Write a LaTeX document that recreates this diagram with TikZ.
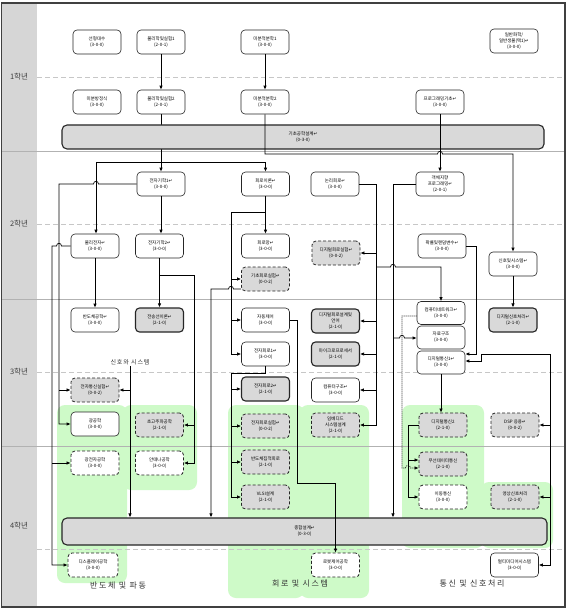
\documentclass[tikz,border=0pt]{standalone}
\usepackage{fontspec}
\setmainfont{Noto Sans CJK KR}
\newfontfamily\djv{DejaVu Sans}
\usetikzlibrary{arrows.meta,calc}
\pgfdeclarelayer{bg}\pgfdeclarelayer{under}
\pgfsetlayers{bg,under,main}
\definecolor{grn}{RGB}{206,250,200}
\definecolor{gfill}{RGB}{217,217,217}
\definecolor{colg}{RGB}{214,214,214}
\newcommand{\rmk}{{\djv ↵}}
\begin{document}
\begin{tikzpicture}[x=1pt,y=-1pt,
  crs/.style={draw=black!85, line width=0.6pt, rounded corners=4pt, minimum width=48pt, minimum height=24pt, inner sep=1pt, align=center, fill=white, font=\fontsize{4.5}{6}\selectfont},
  gsol/.style={crs, fill=gfill, line width=1.1pt},
  gdash/.style={crs, fill=gfill, dash pattern=on 3pt off 2pt, line width=0.8pt},
  wdash/.style={crs, dash pattern=on 3pt off 2pt, line width=0.8pt},
  barbox/.style={crs, fill=gfill, line width=1.1pt, rounded corners=5pt},
  arr/.style={-{Latex[length=4pt,width=3.4pt]}, line width=0.7pt},
  dotl/.style={dash pattern=on 1pt off 1pt, line width=0.6pt},
  yr/.style={font=\fontsize{7.5}{8}\selectfont, text=black!75},
  trk/.style={font=\fontsize{8}{9}\selectfont\addfontfeature{LetterSpace=20}, text=black!80},
  grnbox/.style={fill=grn, rounded corners=8pt}
]
\useasboundingbox (0,0) rectangle (567,609);

% ---------- background: green regions, column, grid ----------
\begin{pgfonlayer}{bg}
\fill[white] (0,0) rectangle (567,609);
\fill[colg] (1.5,3) rectangle (37,607);
\fill[grnbox] (57,405) rectangle (127,583);
\fill[grnbox] (123,405) rectangle (197,490);
\fill[grnbox] (228,405) rectangle (304,598);
\fill[grnbox] (300,405) rectangle (369,598);
\fill[grnbox] (402,405) rectangle (484,548);
\fill[grnbox] (481,482) rectangle (553,548);
\foreach \yy in {151,299,446} \draw[black!30, line width=0.9pt] (1.5,\yy) -- (565,\yy);
\foreach \yy in {77,224,372,549} \draw[black!22, line width=0.8pt, dash pattern=on 5pt off 3pt] (37,\yy) -- (565,\yy);
\end{pgfonlayer}

% ---------- year labels ----------
\node[yr] (y1) at (19,77) {1학년};
\node[yr] (y2) at (19,224) {2학년};
\node[yr] (y3) at (19,372) {3학년};
\node[yr] (y4) at (19,526) {4학년};

% ---------- year 1 ----------
\node[crs] (a1) at (97,42) {선형대수\\(3-0-0)};
\node[crs] (a2) at (161,42) {물리학및실험1\\(2-0-1)};
\node[crs] (a3) at (265,42) {미분적분학1\\(3-0-0)};
\node[crs] (a4) at (514,41) {일반화학/\\일반생물(택1)\rmk\\(3-0-0)};
\node[crs] (b1) at (97,102) {미분방정식\\(3-0-0)};
\node[crs] (b2) at (161,102) {물리학및실험2\\(2-0-1)};
\node[crs] (b3) at (265,102) {미분적분학2\\(3-0-0)};
\node[crs] (b4) at (440,102) {프로그래밍기초\rmk\\(3-0-0)};
\node[barbox, minimum width=482pt, minimum height=24pt] (bar1) at (303,137) {기초공학설계\rmk\\(0-3-0)};

% ---------- year 2 ----------
\node[crs] (c1) at (161,184) {전자기학1\rmk\\(3-0-0)};
\node[crs] (c2) at (265.5,184) {회로이론\rmk\\(3-0-0)};
\node[crs] (c3) at (335,184) {논리회로\rmk\\(3-0-0)};
\node[crs] (c4) at (440,184) {객체지향\\프로그래밍\rmk\\(2-0-1)};
\node[crs] (d1) at (95,246) {물리전자\rmk\\(3-0-0)};
\node[crs] (d2) at (159.5,246) {전자기학2\rmk\\(3-0-0)};
\node[crs] (d3) at (265.5,246) {회로망\rmk\\(3-0-0)};
\node[gdash] (d4) at (265.5,279) {기초회로실험\rmk\\(0-0-2)};
\node[gdash] (d5) at (336,253) {디지털회로실험\rmk\\(0-0-2)};
\node[crs] (d6) at (442,246) {확률및랜덤변수\rmk\\(3-0-0)};
\node[crs] (d7) at (513,264) {신호및시스템\rmk\\(3-0-0)};

% ---------- year 3 ----------
\node[crs] (e1) at (95,320) {반도체공학\rmk\\(3-0-0)};
\node[gsol] (e2) at (159.5,320) {전송선이론\rmk\\(2-1-0)};
\node[crs] (e3) at (265.5,320) {자동제어\\(3-0-0)};
\node[crs] (e4) at (265.5,354) {전자회로1\rmk\\(3-0-0)};
\node[gdash] (e5) at (95,390) {전자통신실험\rmk\\(0-0-2)};
\node[gsol] (e6) at (265.5,389) {전자회로2\rmk\\(2-1-0)};
\node[gsol] (e7) at (335.5,321) {디지털회로설계및\\언어\\(2-1-0)};
\node[gsol] (e8) at (335.5,354) {마이크로프로세서\\(2-1-0)};
\node[crs] (e9) at (335.5,390) {컴퓨터구조\rmk\\(3-0-0)};
\node[crs, minimum height=23pt] (e10) at (441,313) {컴퓨터네트워크\rmk\\(3-0-0)};
\node[crs, minimum height=23pt] (e11) at (441,337.5) {자료구조\\(3-0-0)};
\node[crs, minimum height=23pt] (e12) at (441,362.5) {디지털통신1\rmk\\(3-0-0)};
\node[gsol] (e13) at (513,320) {디지털신호처리\rmk\\(2-1-0)};
\node[font=\fontsize{6}{7}\selectfont\addfontfeature{LetterSpace=15}, text=black!80, inner sep=1pt] (sig) at (130,362) {신호와 시스템};

% ---------- year 3/4 green tracks ----------
\node[crs] (f1) at (95,424) {광공학\\(3-0-0)};
\node[gdash] (f2) at (159.5,425) {초고주파공학\\(2-1-0)};
\node[gdash] (f3) at (265.5,426) {전자회로실험\rmk\\(0-0-2)};
\node[gdash] (f4) at (335.5,425) {임베디드\\시스템설계\\(2-1-0)};
\node[gdash] (f5) at (443,425) {디지털통신2\\(2-1-0)};
\node[gdash] (f6) at (515,425) {DSP 응용\rmk\\(0-0-2)};
\node[wdash] (g1) at (95,463) {광전자공학\\(3-0-0)};
\node[wdash] (g2) at (159.5,463) {안테나공학\\(3-0-0)};
\node[gdash] (g3) at (265.5,462) {반도체집적회로\\(2-1-0)};
\node[gdash] (g4) at (443,464) {무선데이터통신\\(2-1-0)};
\node[gdash] (g5) at (265.5,497) {VLSI설계\\(2-1-0)};
\node[wdash] (g6) at (443,497) {이동통신\\(3-0-0)};
\node[gdash] (g7) at (515,497) {영상신호처리\\(2-1-0)};

% ---------- year 4 ----------
\node[barbox, minimum width=485pt, minimum height=27pt] (bar2) at (304.5,531.5) {종합설계\rmk\\(0-3-0)};
\node[wdash, minimum width=50pt] (h1) at (93,565) {디스플레이공학\\(3-0-0)};
\node[wdash] (h2) at (335.5,565) {로봇제어공학\\(3-0-0)};
\node[crs] (h3) at (514.5,565) {멀티미디어시스템\\(3-0-0)};

% ---------- track labels ----------
\node[trk] (t1) at (118,585) {반도체 및 파동};
\node[trk] (t2) at (300,584) {회로 및 시스템};
\node[trk] (t3) at (472,584) {통신 및 신호처리};

% ---------- connectors ----------
\begin{pgfonlayer}{under}
\draw[arr] (b2.south) -- (c1.north);
\end{pgfonlayer}
\draw[arr] (a2.south) -- (b2.north);
\draw[arr] (a3.south) -- (b3.north);
\coordinate (j1) at (96,162);
\draw[arr] (j1) -- (j1 |- d1.north);
\draw[arr] (j1) -| (c2.north);
\draw[arr] (b3.south) -- (265,154) -- (437.5,154) .. controls (437.5,150.5) and (442.5,150.5) .. (442.5,154) -- (513,154) -- (d7.north);
\draw[arr] (b4.south) -- (c4.north);

% electromagnetics / semiconductor
\draw[arr] (c1.west) -- (98.5,184) .. controls (98.5,180.5) and (93.5,180.5) .. (93.5,184) -- (59,184) -- (59,424) -- (f1.west);
\draw[arr] (59,390) -- (e5.west);
\draw[arr] (d1.west) -- (61.5,246) .. controls (61.5,242.5) and (56.5,242.5) .. (56.5,246) -- (52,246) |- (h1.west);
\draw[arr] (52,463) -- (g1.west);
\draw[arr] (d1.south) -- (e1.north);
\draw[arr] (c1.south) -- (c1.south |- d2.north);
\draw[arr] (d2.south) -- (e2.north);
\draw[arr] (159.5,275) -- (194,275) |- (g2.east);
\draw[arr] (194,425) -- (f2.east);
\draw[arr] (sig.south) -- (bar2.north -| sig.south);
\draw[arr] (130,390) -- (e5.east);

% circuits
\draw[arr] (c2.south) -- (d3.north);
\draw[arr] (265.5,212) -- (231,212) |- (e4.west);
\draw[arr] (231,279) -- (d4.west);
\draw[arr] (231,320) -- (e3.west);
\draw[arr] ([yshift=-10pt]d4.west) -- (233.5,289) .. controls (233.5,285.5) and (228.5,285.5) .. (228.5,289) -- (211,289) -- (bar2.north -| 211,0);
\draw[arr] (e4.south) -- (265.5,373) -- (231,373) |- (g5.west);
\draw[arr] (231,389) -- (e6.west);
\draw[arr] (231,426) -- (f3.west);
\draw[arr] (231,462) -- (g3.west);
\draw[arr] (e3.east) -- (297,320) -- (297,483) -| (h2.north);

% digital
\draw[arr] (c3.east) -- (376,184) |- (f4.east);
\draw[arr] (376,253) -- (d5.east);
\draw[arr] (376,321) -- (e7.east);
\draw[arr] (376,354) -- (e8.east);
\draw[arr] (376,390) -- (e9.east);
\draw[arr] (376,267) -- (390.5,267) .. controls (390.5,263.5) and (395.5,263.5) .. (395.5,267) -- (441,267) -- (e10.north);
\draw[arr] (c4.west) -- (393,184) -- (bar2.north -| 393,0);
\draw[arr] (393,338) -- (399.5,338) .. controls (399.5,334.5) and (404.5,334.5) .. (404.5,338) -- (e11.west |- 0,338);

% communications / signal processing
\draw[arr,dotl] ([yshift=-3pt]e10.west) -- (402,316) -- (402,468) -- (405.5,468) .. controls (405.5,464.5) and (410.5,464.5) .. (410.5,468) -- ([yshift=-4pt]g4.west);
\draw[arr] (f5.west) -- (408,425) |- (g6.west);
\draw[arr] (408,460) -- ([yshift=4pt]g4.west);
\draw[arr] (d6.east) -- (476,246) -- (476,354) -- ([yshift=8.5pt]e12.east);
\draw[arr] (e12.south) -- (e12.south |- f5.north);
\draw[arr] (d7.south) -- (e13.north);
\coordinate (fan) at (550,354);
\draw[arr] (fan) -- (481,354) -- (481,361) -- ([yshift=1.5pt]e12.east);
\draw[arr] (fan) |- (h3.east);
\draw[arr] (550,425) -- (f6.east);
\draw[arr] (550,497) -- (g7.east);

% frame
\draw[black!75, line width=1.5pt] (1.5,3) rectangle (565,607);
\end{tikzpicture}
\end{document}
